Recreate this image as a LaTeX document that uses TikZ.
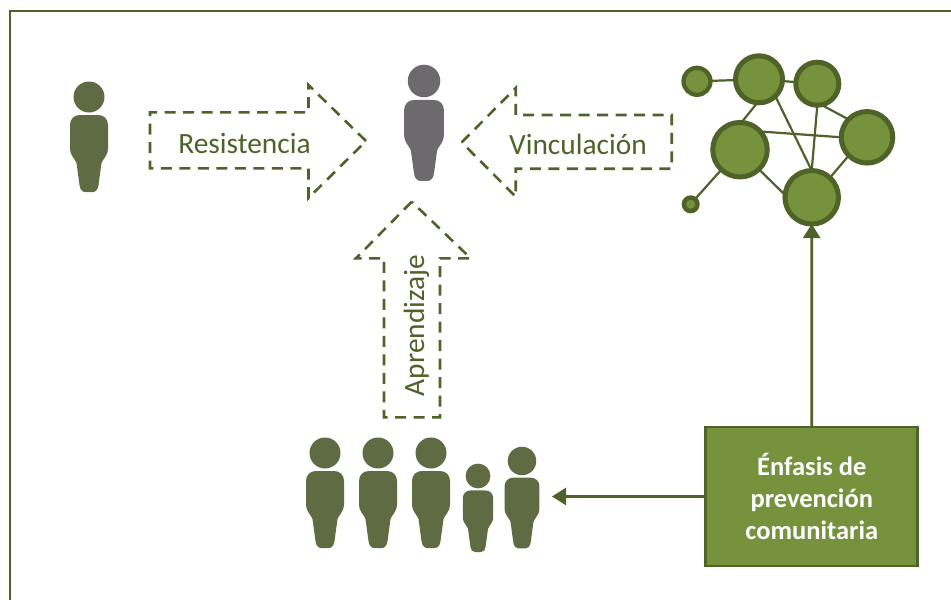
\documentclass[tikz,border=0pt]{standalone}
\usepackage{fontspec}
\setmainfont{Carlito}
\usetikzlibrary{arrows.meta}
\definecolor{dk}{HTML}{4F6228}
\definecolor{ol}{HTML}{76923C}
\definecolor{pers}{HTML}{5F6B43}
\definecolor{grayp}{HTML}{6D6A6D}
\tikzset{
  personfig/.pic={
    \fill[pic actions] (0,0) circle (15.5);
    \fill[pic actions] (-9,18) -- (9,18) .. controls (15,18) and (19,22) .. (19,28) -- (19,52)
      .. controls (19,58) and (14,62) .. (12.5,66) -- (9.5,88) .. controls (9,93) and (6,95) .. (4,95)
      -- (-4,95) .. controls (-6,95) and (-9,93) .. (-9.5,88) -- (-12.5,66)
      .. controls (-14,62) and (-19,58) .. (-19,52) -- (-19,28) .. controls (-19,22) and (-15,18) .. (-9,18) -- cycle;
  },
  dasharrow/.style={draw=dk,line width=2.6pt,dash pattern=on 11pt off 7.5pt,line join=miter},
  lbl/.style={text=dk,font=\fontsize{29.4}{32}\selectfont,anchor=base,inner sep=0pt},
  net/.style={circle,draw=dk,fill=ol,inner sep=0pt,outer sep=0pt,line width=#1},
  net/.default=5pt,
  edge/.style={draw=dk,line width=2.2pt},
  conn/.style={draw=dk,line width=2.6pt,-{Triangle[length=14pt,width=17pt]}},
  framebox/.style={draw=dk,line width=2.4pt},
  mainbox/.style={draw=dk,fill=ol,line width=2.6pt,minimum width=212pt,minimum height=139pt,inner sep=0pt,outer sep=0pt,
    text=white,align=center,font=\fontsize{26.5}{32}\selectfont\bfseries}
}
\begin{document}
\begin{tikzpicture}[x=1pt,y=-1pt]
\useasboundingbox (0,0) rectangle (951,600);
\clip (0,0) rectangle (951,600);
\path[framebox] (10,620) -- (10,11) -- (970,11);

% people
\pic[fill=pers] at (89,97) {personfig};
\pic[fill=grayp,scale=1.05] at (424,81) {personfig};
\pic[fill=pers] at (325,453) {personfig};
\pic[fill=pers] at (378,453) {personfig};
\pic[fill=pers] at (431,453) {personfig};
\pic[fill=pers,scale=0.8] at (478,476) {personfig};
\pic[fill=pers,scale=0.92] at (522,461) {personfig};

% dashed arrows
\path[dasharrow] (366,141) -- (308.5,85) -- (308.5,112.3) -- (150,112.3) -- (150,168.3) -- (308.5,168.3) -- (308.5,198) -- cycle;
\node[lbl] (res) at (244.5,153) {Resistencia};
\path[dasharrow] (461.7,142.3) -- (515.7,88) -- (515.7,115) -- (671.7,115) -- (671.7,168.7) -- (515.7,168.7) -- (515.7,196.7) -- cycle;
\node[lbl] (vin) at (578,154) {Vinculación};
\path[dasharrow] (411.7,201.7) -- (356,258.3) -- (384,258.3) -- (384,417.3) -- (440,417.3) -- (440,258.3) -- (470.7,258.3) -- cycle;
\node[lbl,rotate=90] (apr) at (424,325.5) {Aprendizaje};

% network
\node[net=4.3pt,minimum size=27pt] (a) at (697,81.3) {};
\node[net,minimum size=47pt] (b) at (759,79.3) {};
\node[net,minimum size=43pt] (c) at (817.3,83.7) {};
\node[net,minimum size=54.5pt] (d) at (740,149.7) {};
\node[net,minimum size=51.5pt] (e) at (867,137.3) {};
\node[net,minimum size=53.5pt] (f) at (811.7,197.3) {};
\node[net=4.5pt,minimum size=13.5pt] (g) at (690.7,204.3) {};
\path[edge] (a) -- (b);
\path[edge] (b) -- (c);
\path[edge] (b.-94) -- (d.87);
\path[edge] (b.-46) -- (f.north);
\path[edge] (c.south) -- (f.north);
\path[edge] (c.-79) -- (e.136);
\path[edge] (d.42) -- (e.west);
\path[edge] (d.-46) -- (f.175);
\path[edge] (e.-135) -- (f.47);
\path[edge] (d.-133) -- (g.50);

% box
\node[mainbox] (box) at (811.75,496.5) {\raisebox{1pt}{Énfasis de}\\\raisebox{1pt}{prevención}\\\raisebox{1pt}{comunitaria}};
\coordinate (grp) at (552,496.5);
\path[conn] (box.north) -- (f.south);
\path[conn] (box.west) -- (grp);
\end{tikzpicture}
\end{document}
